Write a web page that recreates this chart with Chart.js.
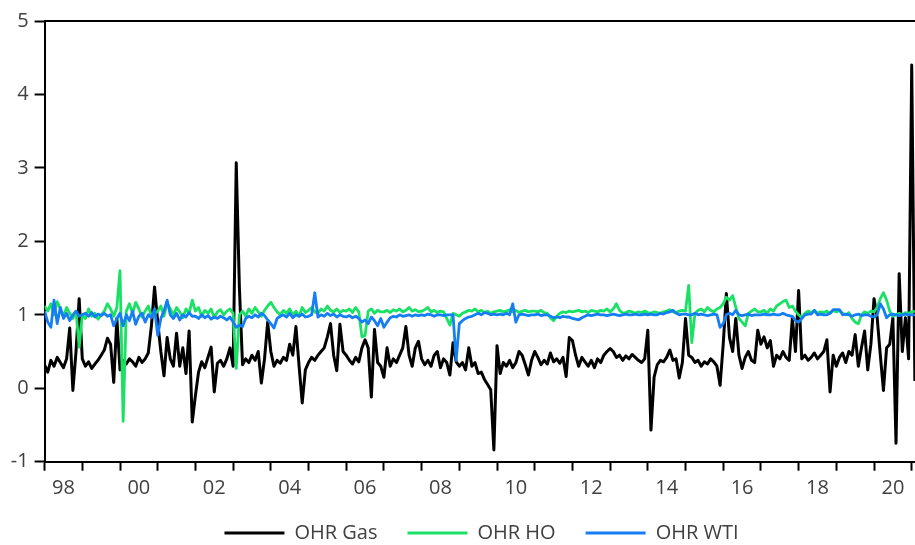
<!DOCTYPE html>
<html>
<head>
<meta charset="utf-8">
<title>OHR</title>
<script src="https://cdn.jsdelivr.net/npm/chart.js@4.4.1/dist/chart.umd.min.js"></script>
<style>
    html, body { margin: 0; padding: 0; overflow: hidden; background: #fff; }
    #wrap { width: 963px; height: 545px; }
</style>
</head>
<body>
<div id="wrap"><canvas id="ohrChart" width="963" height="545"></canvas></div>
<script>
// Monthly readings, starting January 1998
const startYear = 1998;
const monthsPerYear = 12;

const gas = [
    0.32, 0.22, 0.38, 0.30, 0.42, 0.35, 0.28, 0.40, 0.82, -0.03, 0.50, 1.22,   // 1998
    0.40, 0.30, 0.36, 0.27, 0.33, 0.38, 0.45, 0.52, 0.68, 0.60, 0.08, 0.95,    // 1999
    0.25, 0.38, 0.33, 0.40, 0.36, 0.30, 0.42, 0.35, 0.40, 0.48, 0.85, 1.38,    // 2000
    0.90, 0.50, 0.17, 0.69, 0.40, 0.30, 0.75, 0.30, 0.55, 0.20, 0.78, -0.46,   // 2001
    -0.10, 0.22, 0.36, 0.28, 0.42, 0.56, -0.05, 0.34, 0.38, 0.30, 0.40, 0.55,  // 2002
    0.30, 3.07, 1.37, 0.32, 0.40, 0.35, 0.45, 0.38, 0.50, 0.07, 0.40, 0.90,    // 2003
    0.50, 0.30, 0.38, 0.34, 0.42, 0.38, 0.60, 0.45, 0.84, 0.30, -0.20, 0.25,   // 2004
    0.35, 0.42, 0.38, 0.45, 0.50, 0.55, 0.70, 0.88, 0.45, 0.24, 0.87, 0.50,    // 2005
    0.45, 0.38, 0.33, 0.42, 0.36, 0.55, 0.66, 0.55, -0.12, 0.80, 0.35, 0.30,   // 2006
    0.15, 0.55, 0.30, 0.40, 0.35, 0.45, 0.55, 0.84, 0.45, 0.30, 0.55, 0.64,    // 2007
    0.40, 0.32, 0.38, 0.30, 0.45, 0.50, 0.28, 0.40, 0.35, 0.18, 0.62, 0.36,    // 2008
    0.30, 0.35, 0.25, 0.55, 0.30, 0.35, 0.20, 0.22, 0.12, 0.05, -0.02, -0.84,  // 2009
    0.58, 0.20, 0.35, 0.30, 0.38, 0.28, 0.35, 0.50, 0.45, 0.32, 0.18, 0.38,    // 2010
    0.50, 0.42, 0.32, 0.38, 0.33, 0.48, 0.36, 0.40, 0.34, 0.42, 0.16, 0.69,    // 2011
    0.65, 0.45, 0.30, 0.42, 0.36, 0.30, 0.38, 0.28, 0.40, 0.35, 0.45, 0.50,    // 2012
    0.54, 0.50, 0.42, 0.45, 0.38, 0.44, 0.40, 0.46, 0.42, 0.38, 0.35, 0.40,    // 2013
    0.79, -0.57, 0.15, 0.32, 0.38, 0.36, 0.42, 0.52, 0.38, 0.40, 0.14, 0.35,   // 2014
    0.95, 0.45, 0.42, 0.35, 0.38, 0.30, 0.36, 0.33, 0.40, 0.36, 0.30, 0.04,    // 2015
    0.60, 1.29, 0.69, 0.50, 0.95, 0.45, 0.27, 0.42, 0.50, 0.38, 0.35, 0.79,    // 2016
    0.60, 0.70, 0.55, 0.65, 0.30, 0.45, 0.40, 0.50, 0.42, 0.38, 0.95, 0.50,    // 2017
    1.33, 0.40, 0.45, 0.38, 0.42, 0.48, 0.40, 0.45, 0.50, 0.66, -0.05, 0.45,   // 2018
    0.30, 0.42, 0.48, 0.35, 0.50, 0.45, 0.73, 0.30, 0.55, 0.78, 0.25, 0.60,    // 2019
    1.22, 0.96, 0.45, -0.03, 0.55, 0.60, 0.96, -0.75, 1.56, 0.50, 0.96, 0.40,  // 2020
    4.40, 0.10                                                                  // 2021
];

const ho = [
    1.12, 1.05, 1.15, 1.00, 1.18, 1.08, 0.98, 1.10, 1.02, 0.95, 1.05, 0.56,    // 1998
    1.00, 0.95, 1.08, 0.98, 1.02, 0.94, 1.00, 1.05, 1.15, 1.08, 0.98, 1.10,    // 1999
    1.60, -0.45, 1.05, 1.15, 1.02, 1.17, 1.08, 0.97, 1.05, 1.12, 0.98, 1.00,   // 2000
    1.05, 1.12, 0.98, 1.16, 1.08, 1.00, 1.10, 1.04, 0.96, 1.08, 1.02, 1.20,    // 2001
    1.05, 1.10, 0.98, 1.06, 1.02, 1.08, 0.96, 1.04, 1.07, 1.00, 1.05, 1.08,    // 2002
    1.02, 0.27, 1.00, 1.05, 0.98, 1.08, 1.02, 1.10, 1.04, 0.98, 1.06, 1.12,    // 2003
    1.17, 1.10, 1.04, 1.00, 1.06, 1.02, 1.08, 1.00, 1.05, 0.98, 1.10, 1.03,    // 2004
    1.06, 1.10, 1.04, 1.02, 1.08, 1.05, 1.12, 1.06, 1.04, 1.08, 1.03, 1.06,    // 2005
    1.05, 1.08, 1.03, 1.10, 1.04, 0.70, 0.72, 1.05, 1.08, 1.02, 1.06, 1.04,    // 2006
    1.04, 1.06, 1.03, 1.07, 1.05, 1.08, 1.04, 1.06, 1.10, 1.05, 1.07, 1.04,    // 2007
    1.05, 1.07, 1.10, 1.04, 1.06, 1.03, 1.05, 1.04, 0.95, 0.86, 1.02, 1.00,    // 2008
    0.98, 1.02, 1.04, 1.06, 1.05, 1.08, 1.04, 1.06, 1.03, 1.05, 1.02, 1.04,    // 2009
    1.05, 1.06, 1.04, 1.05, 1.07, 1.04, 1.06, 1.03, 1.05, 1.06, 1.04, 1.05,    // 2010
    1.05, 1.04, 1.06, 1.03, 1.02, 0.96, 0.92, 0.98, 1.02, 1.04, 1.03, 1.05,    // 2011
    1.04, 1.05, 1.06, 1.04, 1.05, 1.03, 1.06, 1.05, 1.04, 1.06, 1.05, 1.08,    // 2012
    1.04, 1.08, 1.15, 1.06, 1.02, 1.03, 1.05, 1.04, 1.02, 1.04, 1.03, 1.05,    // 2013
    1.03, 1.02, 1.04, 1.03, 1.02, 1.04, 1.05, 1.07, 1.04, 1.03, 1.05, 1.06,    // 2014
    1.05, 1.40, 0.62, 1.02, 1.06, 1.08, 1.04, 1.10, 1.06, 1.04, 1.08, 1.10,    // 2015
    1.15, 1.24, 1.20, 1.26, 1.10, 0.95, 0.90, 0.85, 1.02, 1.05, 1.08, 1.04,    // 2016
    1.04, 1.06, 1.02, 1.08, 1.05, 1.12, 1.15, 1.18, 1.20, 1.10, 1.12, 1.05,    // 2017
    1.00, 0.96, 1.02, 1.05, 1.03, 1.06, 1.02, 1.04, 1.03, 1.05, 1.02, 1.06,    // 2018
    1.04, 1.06, 1.02, 1.00, 1.03, 0.95, 0.90, 0.88, 1.00, 1.04, 1.02, 1.05,    // 2019
    1.04, 1.10, 1.22, 1.30, 1.20, 1.05, 0.98, 1.00, 1.02, 1.00, 1.03, 1.02,    // 2020
    1.04, 1.05                                                                  // 2021
];

const wti = [
    1.05, 0.90, 0.83, 1.20, 0.88, 1.10, 0.95, 1.02, 0.92, 1.00, 1.05, 0.98,    // 1998
    1.00, 1.02, 0.98, 1.03, 0.97, 1.01, 0.99, 1.02, 0.98, 1.00, 0.85, 0.95,    // 1999
    1.02, 0.85, 1.00, 0.92, 1.05, 0.87, 0.98, 1.02, 0.90, 1.00, 0.96, 1.08,    // 2000
    0.72, 0.95, 1.05, 1.20, 1.00, 0.95, 1.02, 0.93, 1.00, 0.97, 1.03, 0.98,    // 2001
    0.98, 0.95, 1.00, 0.96, 0.99, 0.94, 0.97, 0.95, 0.98, 0.96, 0.93, 0.97,    // 2002
    0.90, 0.83, 0.86, 0.84, 0.95, 0.98, 0.96, 1.00, 0.97, 1.02, 0.99, 0.93,    // 2003
    0.88, 0.82, 0.95, 0.98, 1.00, 0.97, 1.02, 0.96, 1.00, 0.98, 1.01, 0.97,    // 2004
    0.98, 1.00, 1.30, 0.97, 1.00, 0.98, 1.02, 0.99, 1.01, 0.97, 1.00, 0.98,    // 2005
    0.97, 0.99, 0.96, 0.98, 0.95, 0.90, 0.93, 0.88, 0.97, 0.92, 0.85, 0.95,    // 2006
    0.83, 0.90, 0.96, 0.98, 0.97, 1.00, 0.98, 0.99, 1.00, 0.98, 1.00, 0.99,    // 2007
    1.00, 0.99, 1.01, 1.00, 0.98, 1.00, 1.00, 0.99, 1.00, 1.00, 1.00, 0.38,    // 2008
    0.88, 0.92, 0.95, 0.97, 0.98, 1.00, 1.02, 1.00, 1.03, 1.02, 1.00, 1.01,    // 2009
    1.00, 1.01, 1.00, 1.02, 1.00, 1.15, 0.90, 1.00, 1.01, 1.00, 0.99, 1.00,    // 2010
    1.00, 1.01, 0.99, 1.00, 1.00, 0.98, 0.96, 0.97, 0.96, 0.98, 0.97, 0.97,    // 2011
    0.95, 0.94, 0.93, 0.96, 0.98, 1.00, 0.99, 1.00, 1.01, 1.00, 1.00, 0.99,    // 2012
    1.00, 1.01, 1.00, 0.99, 1.00, 1.01, 1.00, 1.00, 1.01, 1.00, 1.00, 1.01,    // 2013
    1.00, 1.01, 1.00, 1.00, 1.02, 1.01, 1.03, 1.04, 1.06, 1.02, 1.00, 1.01,    // 2014
    1.01, 1.00, 1.00, 1.02, 1.00, 1.01, 1.00, 0.99, 1.00, 1.01, 1.00, 0.83,    // 2015
    0.88, 1.00, 1.02, 1.00, 1.06, 1.00, 0.99, 1.00, 1.01, 0.99, 1.00, 1.00,    // 2016
    1.00, 1.01, 1.00, 1.00, 1.01, 1.00, 1.00, 1.02, 1.00, 0.99, 0.98, 0.92,    // 2017
    0.90, 0.95, 1.00, 1.01, 1.01, 1.06, 1.00, 1.01, 1.00, 1.00, 1.02, 1.07,    // 2018
    1.07, 1.07, 1.00, 1.01, 1.00, 0.98, 1.00, 1.01, 0.99, 1.00, 1.00, 0.98,    // 2019
    0.97, 1.00, 1.15, 1.08, 0.96, 1.00, 1.01, 1.00, 0.99, 1.00, 1.01, 1.00,    // 2020
    1.00, 1.00                                                                  // 2021
];

// Axis ticks
const yTickValues = [-1, 0, 1, 2, 3, 4, 5];
const tickYears = [1998, 1999, 2000, 2001, 2002, 2003, 2004, 2005, 2006, 2007, 2008, 2009,
                   2010, 2011, 2012, 2013, 2014, 2015, 2016, 2017, 2018, 2019, 2020, 2021, 2022];
const labelYears = [1998, 2000, 2002, 2004, 2006, 2008, 2010, 2012, 2014, 2016, 2018, 2020];

const fontFamily = "'Open Sans', 'Noto Sans', sans-serif";
const textColor = '#404040';

const toPoints = values => values.map((v, i) => ({ x: startYear + i / monthsPerYear, y: v }));

// x ticks: a mark at each year start, a label in the middle of even years
const xTicks = tickYears.concat(labelYears.map(y => y + 0.5)).sort((a, b) => a - b);
const isLabelTick = value => labelYears.includes(value - 0.5);

// the x axis box is kept short so the legend sits low; let its labels draw below it
const labelRoom = {
    id: 'labelRoom',
    afterLayout: chart => { chart.scales.x.bottom = chart.height; }
};

new Chart(document.getElementById('ohrChart'), {
    type: 'line',
    data: {
        datasets: [
            { label: 'OHR Gas', data: toPoints(gas), borderColor: '#000000', borderWidth: 3, order: 3 },
            { label: 'OHR HO', data: toPoints(ho), borderColor: '#19e164', borderWidth: 2.8, order: 2 },
            { label: 'OHR WTI', data: toPoints(wti), borderColor: '#157ef5', borderWidth: 2.8, order: 1 }
        ]
    },
    plugins: [labelRoom],
    options: {
        responsive: false,
        animation: false,
        devicePixelRatio: 1,
        layout: { padding: { top: 21, left: 0, right: 0, bottom: 0 } },
        elements: {
            point: { radius: 0 },
            line: { tension: 0, borderJoinStyle: 'round', fill: false }
        },
        scales: {
            x: {
                type: 'linear',
                min: 1998,
                max: 2022.36,
                afterBuildTicks: scale => { scale.ticks = xTicks.map(v => ({ value: v })); },
                afterFit: scale => { scale.height = 31.3; },
                border: { color: '#000', width: 2 },
                grid: {
                    drawOnChartArea: false,
                    tickLength: 9,
                    tickWidth: 2,
                    tickColor: ctx => (ctx.tick && isLabelTick(ctx.tick.value)) ? 'rgba(0,0,0,0)' : '#000'
                },
                ticks: {
                    autoSkip: false,
                    maxRotation: 0,
                    padding: 6,
                    color: textColor,
                    font: { size: 20, family: fontFamily },
                    callback: value => isLabelTick(value) ? String((value - 0.5) % 100).padStart(2, '0') : ''
                }
            },
            xTop: {
                type: 'linear',
                position: 'top',
                min: 1998,
                max: 2022.36,
                afterFit: scale => { scale.height = 0; },
                border: { color: '#000', width: 2 },
                grid: { drawOnChartArea: false, drawTicks: false },
                ticks: { display: false }
            },
            y: {
                min: -1,
                max: 5,
                afterBuildTicks: scale => { scale.ticks = yTickValues.map(v => ({ value: v })); },
                afterFit: scale => { scale.width = 44.6; },
                border: { color: '#000', width: 2 },
                grid: { drawOnChartArea: false, tickLength: 10, tickWidth: 2, tickColor: '#000' },
                ticks: {
                    padding: 6,
                    color: textColor,
                    font: { size: 20, family: fontFamily }
                }
            }
        },
        plugins: {
            tooltip: { enabled: false },
            legend: {
                position: 'bottom',
                maxHeight: 52,
                labels: {
                    boxWidth: 60,
                    boxHeight: 3,
                    padding: 30,
                    color: textColor,
                    font: { size: 20, family: fontFamily },
                    sort: (a, b) => a.datasetIndex - b.datasetIndex,
                    generateLabels: chart => Chart.defaults.plugins.legend.labels.generateLabels(chart)
                        .map(item => ({ ...item, lineWidth: 0, fillStyle: item.strokeStyle }))
                }
            }
        }
    }
});
</script>
</body>
</html>
